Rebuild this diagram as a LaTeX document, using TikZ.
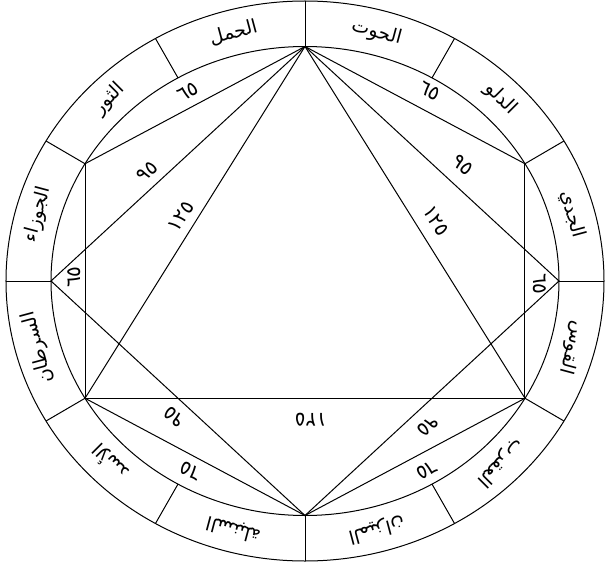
\documentclass[tikz,border=0pt]{standalone}
\usepackage{fontspec}
\newfontfamily\arabicfont[Script=Arabic]{DejaVu Sans}
\newfontfamily\numfont{DejaVu Sans}
\TeXXeTstate=1
\usetikzlibrary{calc}

\begin{document}
\begin{tikzpicture}[x=1pt,y=1pt,line width=1pt,
  sign/.style={font=\arabicfont\fontsize{19}{19}\selectfont,inner sep=0pt},
  num/.style={font=\numfont\fontsize{20}{20}\selectfont,inner sep=0pt}]
\useasboundingbox (-305,-287) rectangle (300,281);
\draw (0,0) ellipse [x radius=299,y radius=280];
\draw (0,0) ellipse [x radius=254,y radius=234.5];
\foreach \a in {0,30,...,330}{
  \coordinate (i\a) at (\a:254 and 234.5);
  \coordinate (o\a) at (\a:299 and 280);
  \draw (i\a) -- (o\a);
}
\foreach \t [count=\k from 0] in {الحمل,الثور,الجوزاء,السرطان,الأسد,السنبلة,الميزان,العقرب,القوس,الجدي,الدلو,الحوت}{
  \pgfmathsetmacro\m{105+30*\k}
  \pgfmathsetmacro\r{\m-90}
  \node[sign,rotate=\r] (z\k) at (\m:276.5 and 257) {\beginR\t\endR};
}
\foreach \p/\q in {90/150,90/180,90/210,90/30,90/0,90/330,150/210,30/330,210/330,270/180,270/210,270/0,270/330}
  \draw (i\p) -- (i\q);
\node[num,rotate=27] (n1) at (-117,189) {٦٥};
\node[num,rotate=42] (n2) at (-158,109) {٩٥};
\node[num,rotate=57] (n3) at (-124,64) {١٢٥};
\node[num,rotate=-28.5] (n4) at (125,190) {٦٥};
\node[num,rotate=-43] (n5) at (158,116) {٩٥};
\node[num,rotate=-59] (n6) at (131,60) {١٢٥};
\node[num,rotate=90] (n7) at (-231,4) {٦٥};
\node[num,rotate=-90] (n8) at (235,-3) {٦٥};
\node[num,rotate=179] (n9) at (6,-139) {١٢٥};
\node[num,rotate=137] (n10) at (-131,-136) {٩٥};
\node[num,rotate=152] (n11) at (-114,-190) {٦٥};
\node[num,rotate=223] (n12) at (123,-145) {٩٥};
\node[num,rotate=207] (n13) at (122,-189) {٦٥};
\end{tikzpicture}
\end{document}
